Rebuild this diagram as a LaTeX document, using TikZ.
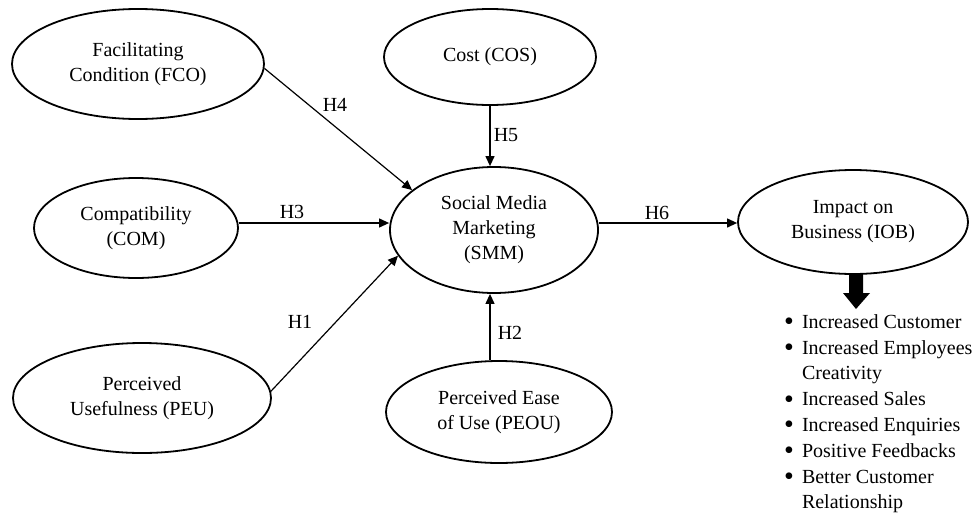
\documentclass[tikz,border=0pt]{standalone}
\usepackage{fontspec}
\setmainfont{Liberation Serif}
\usetikzlibrary{shapes.geometric,arrows.meta}
\newcommand{\bigbul}{\raisebox{-2.5pt}{\fontsize{28}{20}\selectfont •}}
\begin{document}
\begin{tikzpicture}[x=1pt,y=-1pt,
  every node/.style={font=\fontsize{20}{25}\selectfont},
  construct/.style={draw, ellipse, line width=1.8pt, inner sep=0pt, align=center},
  link/.style={line width=1.2pt, -{Triangle[length=10pt,width=9pt]}},
  hyp/.style={inner sep=0pt}]
\useasboundingbox (0,0) rectangle (973,514);
% constructs
\node[construct, minimum width=252pt, minimum height=110pt] (fco) at (138,64) {Facilitating\\Condition (FCO)};
\node[construct, minimum width=212pt, minimum height=96pt] (cos) at (490,57) {Cost (COS)};
\node[construct, minimum width=204pt, minimum height=100pt] (com) at (136,228) {Compatibility\\(COM)};
\node[construct, minimum width=208pt, minimum height=126pt] (smm) at (494,230) {Social Media\\Marketing\\(SMM)};
\node[construct, minimum width=230pt, minimum height=104pt] (iob) at (853,222) {Impact on\\Business (IOB)};
\node[construct, minimum width=258pt, minimum height=110pt] (peu) at (142,398) {Perceived\\Usefulness (PEU)};
\node[construct, minimum width=226pt, minimum height=102pt] (peou) at (499,412) {Perceived Ease\\of Use (PEOU)};
% connectors
\draw[link] (fco.-2) -- (smm.154);
\draw[link] (cos.south) -- (cos.south |- smm.north);
\draw[link] (com.east |- 0,223) -- (smm.west |- 0,223);
\draw[link] (peu.3) -- (smm.195);
\draw[link] (cos.south |- peou.north) -- (cos.south |- smm.south);
\draw[link] (smm.east |- 0,223) -- (iob.west |- 0,223);
% hypothesis labels
\node[hyp] (h4) at (335,105) {H4};
\node[hyp] (h5) at (506,135) {H5};
\node[hyp] (h3) at (292,212) {H3};
\node[hyp] (h1) at (300,322) {H1};
\node[hyp] (h2) at (510,333) {H2};
\node[hyp] (h6) at (657,213) {H6};
% block arrow
\fill (849,273) -- (863,273) -- (863,293) -- (870,293) -- (856,309) -- (843,293) -- (849,293) -- cycle;
% outcome list
\node[anchor=north west, inner sep=0pt, align=left, font=\fontsize{20}{25.8}\selectfont] (list) at (784,310)
 {\begin{tabular}{@{}c@{\hspace{8pt}}l@{}}
 \bigbul & Increased Customer\\
 \bigbul & Increased Employees\\
   & Creativity\\
 \bigbul & Increased Sales\\
 \bigbul & Increased Enquiries\\
 \bigbul & Positive Feedbacks\\
 \bigbul & Better Customer\\
   & Relationship
 \end{tabular}};
\end{tikzpicture}
\end{document}
